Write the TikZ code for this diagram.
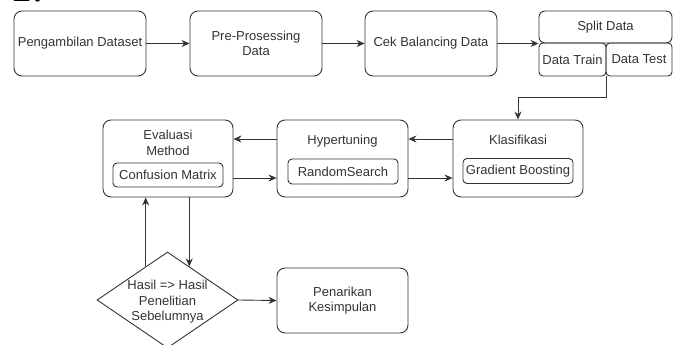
\documentclass[tikz,border=0pt]{standalone}
\usepackage{fontspec}
\setmainfont{Liberation Sans}
\newfontfamily\numfont{Liberation Serif}
\usetikzlibrary{shapes.geometric,arrows.meta}
\begin{document}
\begin{tikzpicture}[x=1pt,y=-1pt,
		every node/.style={text=black!80,font=\fontsize{13}{15.5}\selectfont,inner sep=0pt},
		box/.style={draw=black!80,line width=0.9pt,rounded corners=8pt,align=center},
		inbox/.style={draw=black!80,line width=0.9pt,rounded corners=4pt,minimum width=110pt,minimum height=25pt},
		arr/.style={draw=black!80,line width=0.9pt,-{Stealth[length=8pt,width=7pt]}}]
	\useasboundingbox (0,0) rectangle (677,345);
	\node[text=black,font=\numfont\fontsize{44}{44}\selectfont,anchor=base west] (num) at (10,1.5) {1.};
	\node[box,minimum width=132pt,minimum height=65pt] (ds) at (80,43.5) {Pengambilan Dataset};
	\node[box,minimum width=132pt,minimum height=65pt] (pre) at (256,43.5) {Pre-Prosessing\\Data};
	\node[box,minimum width=132pt,minimum height=65pt] (cek) at (431,43.5) {Cek Balancing Data};
	\node[box,rounded corners=6pt,minimum width=133pt,minimum height=32pt] (split) at (605.5,27) {Split Data};
	\node[box,rounded corners=4pt,minimum width=67pt,minimum height=33pt] (train) at (572.5,59.5) {Data Train};
	\node[box,rounded corners=4pt,minimum width=66pt,minimum height=33pt] (test) at (639,59.5) {Data Test};
	\node[box,minimum width=130pt,minimum height=77pt] (klas) at (518,158.5) {};
	\node (klastitle) at (518,140) {Klasifikasi};
	\node[inbox] (gb) at (518,171) {Gradient Boosting};
	\node[box,minimum width=131pt,minimum height=77pt] (hyp) at (342.5,158.5) {};
	\node (hyptitle) at (342.5,141) {Hypertuning};
	\node[inbox] (rs) at (343,171.5) {RandomSearch};
	\node[box,minimum width=130pt,minimum height=77pt] (eval) at (168,158.5) {};
	\node[align=center] (evaltitle) at (168,143) {Evaluasi\\Method};
	\node[inbox,minimum height=24pt] (cm) at (168,175) {Confusion Matrix};
	\node[diamond,draw=black!80,line width=0.9pt,minimum width=141pt,minimum height=96pt] (cmp) at (167.5,300) {};
	\node[align=center] (cmptext) at (167.5,302) {Hasil => Hasil\\Penelitian\\Sebelumnya};
	\node[box,minimum width=131pt,minimum height=65pt] (pen) at (342.5,300.5) {Penarikan\\Kesimpulan};
	\draw[arr] (ds) -- (pre);
	\draw[arr] (pre) -- (cek);
	\draw[arr] (cek.east) -- (cek.east -| train.west);
	\draw[arr] (train.south east) -- ++(0,21) -| (klas.north);
	\draw[arr] ([yshift=19.5pt]klas.west) -- ([yshift=19.5pt]hyp.east);
	\draw[arr] ([yshift=-19.5pt]hyp.east) -- ([yshift=-19.5pt]klas.west);
	\draw[arr] ([yshift=19.5pt]hyp.west) -- ([yshift=19.5pt]eval.east);
	\draw[arr] ([yshift=-19.5pt]eval.east) -- ([yshift=-19.5pt]hyp.west);
	\draw[arr] (cmp.123) -- (cmp.123 |- eval.south);
	\draw[arr] (eval.south -| cmp.57) -- (cmp.57);
	\draw[arr] (cmp.east) -- (pen.west);
\end{tikzpicture}
\end{document}
